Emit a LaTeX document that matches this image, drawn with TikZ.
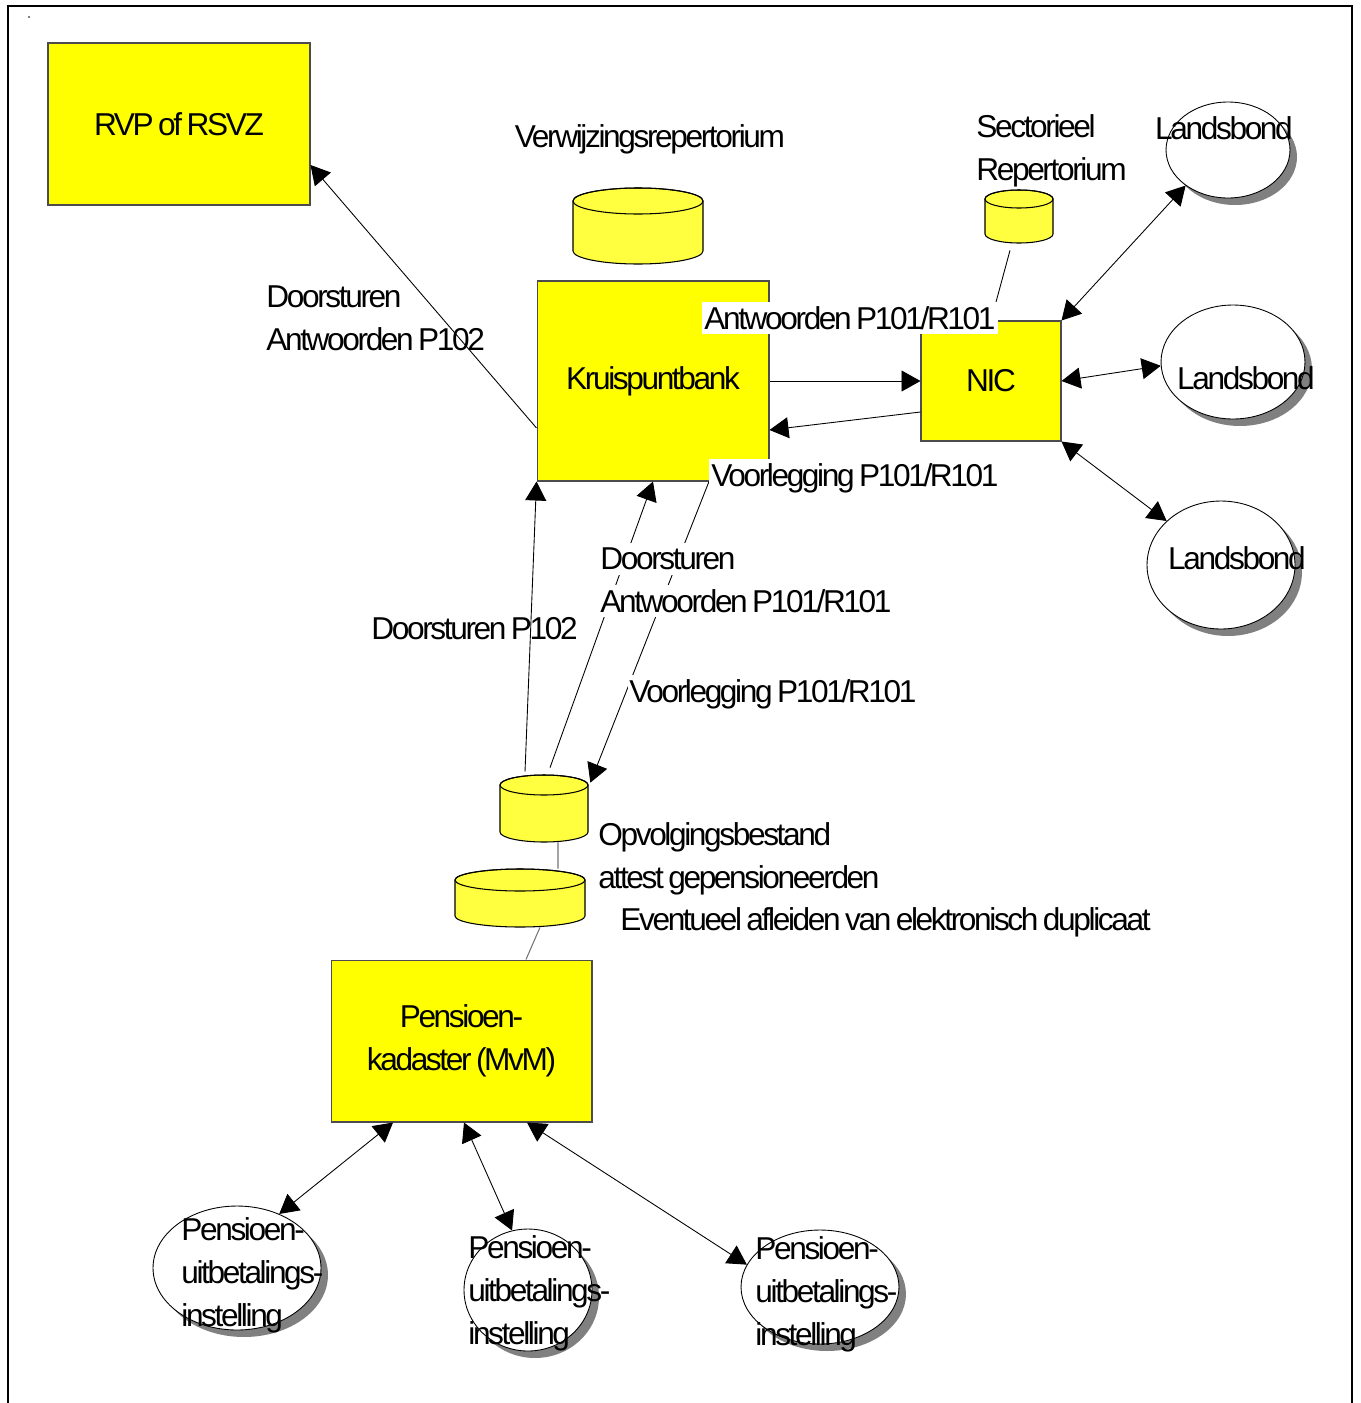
\documentclass[tikz,border=0pt]{standalone}
\usepackage{fontspec}
\setmainfont{Liberation Sans}[LetterSpace=-7.5,WordSpace=0.7]
\usetikzlibrary{arrows.meta,shapes.geometric,shadows}
\definecolor{boxyellow}{RGB}{255,255,0}
\definecolor{cylyellow}{RGB}{255,255,64}
\definecolor{shadowgray}{RGB}{128,128,128}
\newcommand\lbfont{\fontsize{18}{24.4}\selectfont}
% #1 name, #2 cx, #3 y of top ellipse centre, #4 rx, #5 ry, #6 height (px)
\newcommand\dbcyl[6]{%
  \filldraw[cylbody] ({#2-#4},#3) -- ({#2-#4},{#3+#6})
    arc[start angle=180,end angle=360,x radius={#4*0.02cm},y radius={#5*0.02cm}]
    -- ({#2+#4},#3)
    arc[start angle=0,end angle=180,x radius={#4*0.02cm},y radius={#5*0.02cm}] -- cycle;
  \draw[cylbody,fill=none] (#2,#3) ellipse[x radius={#4*0.02cm},y radius={#5*0.02cm}];
  \node[inner sep=0pt,minimum width={2*#4*0.02cm},minimum height={(2*#5+#6)*0.02cm}] (#1) at (#2,{#3+#6/2}) {};
}
\begin{document}
\begin{tikzpicture}[x=0.02cm,y=-0.02cm,
  ybox/.style={draw=black!70,fill=boxyellow,line width=0.6pt,inner sep=0pt,font=\lbfont,align=center},
  oval/.style={ellipse,draw=black,fill=white,line width=0.5pt,inner sep=0pt,
    drop shadow={shadow xshift=0.14cm,shadow yshift=-0.14cm,fill=shadowgray,opacity=1}},
  cylbody/.style={draw=black,fill=cylyellow,line width=0.6pt},
  lbl/.style={inner sep=0pt,font=\lbfont},
  wlbl/.style={fill=white,inner xsep=0.04cm,inner ysep=0.09cm,font=\lbfont},
  tip/.tip={Triangle[length=0.38cm,width=0.42cm]},
  arr/.style={-tip,line width=0.5pt},
  darr/.style={tip-tip,line width=0.5pt},
  conn/.style={line width=0.5pt,draw=black},
  gconn/.style={line width=0.6pt,draw=black!55}]
\useasboundingbox (0,0) rectangle (1360,1403);

% frame
\draw[line width=1.4pt] (8,1410) -- (8,6) -- (1352,6) -- (1352,1410);
\fill (29,17) circle[radius=0.5pt];

% boxes
\node[ybox,minimum width=5.24cm,minimum height=3.24cm] (rvp) at (179,124) {RVP of RSVZ};
\node[ybox,minimum width=4.64cm,minimum height=4cm] (kb) at (653,381) {Kruispuntbank};
\node[ybox,minimum width=2.8cm,minimum height=2.4cm] (nic) at (991,381) {NIC};
\node[ybox,minimum width=5.22cm,minimum height=3.24cm] (pk) at (461.5,1041) {Pensioen-\\kadaster (MvM)};

% cylinders
\dbcyl{verw}{638}{201}{65}{13}{50}
\dbcyl{sec}{1019}{199}{34}{9}{35}
\dbcyl{opv}{544}{785}{44}{10}{47}
\dbcyl{pc}{520}{880}{65}{11}{36}

% ellipses
\node[oval,minimum width=2.48cm,minimum height=1.92cm] (l1) at (1228,150) {};
\node[oval,minimum width=2.88cm,minimum height=2.28cm] (l2) at (1233,362) {};
\node[oval,minimum width=2.96cm,minimum height=2.56cm] (l3) at (1221,565) {};
\node[oval,minimum width=3.36cm,minimum height=2.48cm] (e1) at (237,1268) {};
\node[oval,minimum width=2.56cm,minimum height=2.44cm] (e2) at (528,1290) {};
\node[oval,minimum width=3.16cm,minimum height=2.28cm] (e3) at (820,1287) {};

% connectors
\draw[arr] ([yshift=-0.94cm]kb.west) -- ([yshift=-0.82cm]rvp.east);
\draw[arr] (kb.east) -- (nic.west);
\draw[arr] ([yshift=-0.62cm]nic.west) -- ([yshift=-0.98cm]kb.east);
\draw[conn] ([xshift=-0.18cm,yshift=-0.14cm]sec.south) -- (nic.north);
\draw[darr] (nic.north east) -- (l1.220);
\draw[darr] (nic.east) -- (l2.183);
\draw[darr] (nic.south east) -- (l3.141);
\draw[arr] ([xshift=-0.38cm,yshift=0.06cm]opv.north) -- (kb.south west);
\draw[arr] ([xshift=0.12cm,yshift=0.14cm]opv.north) -- (kb.south);
\draw[arr] ([xshift=1.12cm]kb.south) -- ([xshift=0.04cm,yshift=-0.16cm]opv.north east);
\draw[gconn] ([xshift=0.28cm]opv.south) -- ([xshift=0.76cm]pc.north);
\draw[gconn] ([xshift=0.4cm]pc.south) -- ([xshift=1.29cm]pk.north);
\draw[darr] ([xshift=-1.37cm]pk.south) -- (e1.52);
\draw[darr] ([xshift=0.05cm]pk.south) -- (e2.105);
\draw[darr] ([xshift=1.31cm]pk.south) -- (e3.163);

% labels
\node[lbl] (verwt) at (650,139) {Verwijzingsrepertorium};
\node[lbl,align=left,anchor=west] (sect) at (976,151) {Sectorieel\\Repertorium};
\node[lbl] (l1t) at (1224,128) {Landsbond};
\node[lbl] (l2t) at (1246,378) {Landsbond};
\node[lbl] (l3t) at (1237,558) {Landsbond};
\node[wlbl,anchor=west] (antw1) at (702,318) {Antwoorden P101/R101};
\node[wlbl,anchor=west] (voor1) at (709,478) {Voorlegging P101/R101};
\node[lbl,align=left,anchor=west] (doorp) at (266,318) {Doorsturen\\Antwoorden P102};
\node[wlbl,anchor=west,inner xsep=0.02cm] (door2a) at (599,559) {Doorsturen};
\node[wlbl,anchor=west,inner xsep=0.02cm] (door2b) at (599,601) {Antwoorden P101/R101};
\node[wlbl,anchor=west,inner xsep=0.02cm] (voor2) at (628,694) {Voorlegging P101/R101};
\node[lbl,anchor=west] (door102) at (371,629) {Doorsturen P102};
\node[lbl,align=left,anchor=west] (opvt) at (598,859) {Opvolgingsbestand\\attest gepensioneerden};
\node[lbl,anchor=west] (event) at (620,922) {Eventueel afleiden van elektronisch duplicaat};
\node[lbl,align=left,anchor=west] (e1t) at (181,1275) {Pensioen-\\uitbetalings-\\instelling};
\node[lbl,align=left,anchor=west] (e2t) at (468,1293) {Pensioen-\\uitbetalings-\\instelling};
\node[lbl,align=left,anchor=west] (e3t) at (755,1294) {Pensioen-\\uitbetalings-\\instelling};
\end{tikzpicture}
\end{document}
